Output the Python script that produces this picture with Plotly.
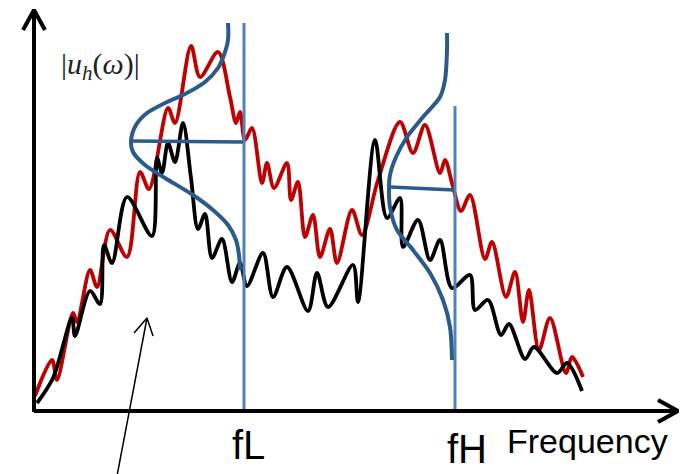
import plotly.graph_objects as go

# ---- data (in picture coordinates: x to the right, y downward) ----
red_x = [35, 52, 57, 73, 77, 90, 97, 110, 127, 140, 149, 168, 175, 191, 200, 218, 230, 236, 240, 245, 252,
         262, 267, 274, 287, 291, 298, 305, 313, 320, 330, 337, 352, 362, 378, 400, 413, 425, 440, 445, 453,
         461, 470, 485, 492, 506, 515, 523, 529, 539, 550, 566, 572, 583]
red_y = [396, 360, 380, 313, 322, 270, 287, 230, 257, 172, 189, 108, 123, 46, 77, 52, 97, 123, 112, 140, 128,
         183, 163, 188, 163, 200, 182, 237, 215, 257, 229, 263, 210, 235, 180, 122, 153, 125, 173, 160, 187,
         211, 195, 259, 242, 297, 272, 322, 290, 350, 318, 373, 357, 377]

black_x = [37, 53, 72, 75, 90, 100, 104, 112, 127, 152, 157, 162, 168, 175, 183, 191, 198, 205, 212, 222, 232,
           240, 247, 263, 273, 287, 308, 317, 328, 353, 358, 375, 387, 400, 403, 418, 430, 440, 452, 470, 475,
           488, 501, 509, 525, 534, 557, 567, 582]
black_y = [403, 378, 318, 336, 291, 304, 245, 263, 197, 236, 158, 173, 143, 162, 123, 178, 229, 214, 258, 239, 282,
           263, 286, 253, 297, 267, 311, 273, 307, 265, 302, 140, 218, 198, 247, 220, 260, 240, 288, 275, 310,
           300, 335, 324, 359, 347, 373, 363, 391]

# left (low) distribution curve and its marker line
gl_x = [228, 228, 224, 218, 205, 185, 165, 147, 136, 131, 133, 145, 165, 193, 213, 228, 236, 239, 240]
gl_y = [23, 40, 55, 68, 82, 94, 103, 113, 125, 141, 152, 165, 178, 195, 210, 225, 240, 255, 270]
hl_x = [131, 243]
hl_y = [141, 142]

# right (high) distribution curve and its marker line
gh_x = [447, 447, 445, 440, 423, 407, 396, 390, 389, 390, 397, 413, 430, 443, 450, 452]
gh_y = [33, 50, 80, 97, 117, 137, 157, 175, 188, 207, 230, 250, 273, 300, 327, 360]
hh_x = [390, 454]
hh_y = [187, 190]

fL_x, fH_x = 244, 455
fL_top, fH_top = 23, 106
axis_y, axis_x = 411, 34

tick_labels = ["fL", "fH"]
x_title = "Frequency"
y_title = "|<i>u</i><sub><i>h</i></sub>(<i>ω</i>)|"

RED = "#C00000"
BLACK = "#000000"
DARK = "#2B5B8C"
LIGHT = "#4F81BD"

fig = go.Figure()

def line(x, y, color, width, shape="spline", smoothing=0.9):
    fig.add_trace(go.Scatter(x=x, y=y, mode="lines", hoverinfo="skip",
                             line=dict(color=color, width=width, shape=shape,
                                       smoothing=smoothing if shape == "spline" else None)))

line(red_x, red_y, RED, 3.8)
line(black_x, black_y, BLACK, 3.8)

# vertical cut-off lines
line([fL_x, fL_x], [fL_top, axis_y], LIGHT, 3, shape="linear")
line([fH_x, fH_x], [fH_top, axis_y], LIGHT, 3, shape="linear")

# distribution curves
line(gl_x, gl_y, DARK, 4)
line(hl_x, hl_y, DARK, 3.5, shape="linear")
line(gh_x, gh_y, DARK, 4)
line(hh_x, hh_y, DARK, 3.5, shape="linear")

# axes with open arrow heads
line([axis_x, axis_x], [axis_y + 1, 11], BLACK, 4, shape="linear")
line([23, axis_x, 45], [30, 10, 30], BLACK, 4, shape="linear")
line([axis_x, 677], [axis_y, axis_y], BLACK, 4, shape="linear")
line([658, 678, 658], [400, axis_y, 422], BLACK, 4, shape="linear")

# pointer arrow
line([117, 147], [476, 318], BLACK, 1.5, shape="linear")
line([134, 147, 153], [333, 318, 336], BLACK, 1.5, shape="linear")

annos = [
    dict(x=fL_x + 4, y=445, text=tick_labels[0], font=dict(size=40, family="Liberation Sans", color="black")),
    dict(x=fH_x + 12, y=449, text=tick_labels[1], font=dict(size=40, family="Liberation Sans", color="black")),
    dict(x=587, y=441, text=x_title, font=dict(size=34, family="Liberation Sans", color="black")),
    dict(x=100, y=66, text=y_title, font=dict(size=30, family="Liberation Serif", color="#222222")),
]
for a in annos:
    fig.add_annotation(xref="x", yref="y", showarrow=False, xanchor="center", yanchor="middle", **a)

fig.update_layout(
    width=688, height=474, margin=dict(l=0, r=0, t=0, b=0),
    paper_bgcolor="white", plot_bgcolor="white", showlegend=False,
    xaxis=dict(range=[0, 688], visible=False, fixedrange=True),
    yaxis=dict(range=[474, 0], visible=False, fixedrange=True),
)

fig.write_html("out.html")
